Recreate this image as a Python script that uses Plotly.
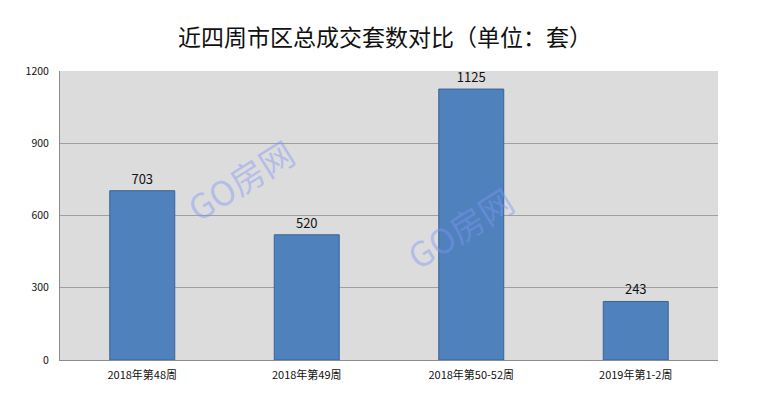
import plotly.graph_objects as go

categories = ["2018年第48周", "2018年第49周", "2018年第50-52周", "2019年第1-2周"]
values = [703, 520, 1125, 243]
y_ticks = [0, 300, 600, 900, 1200]
title_text = "近四周市区总成交套数对比（单位：套）"
watermark = "GO房网"

FONT = "Noto Sans CJK SC, Microsoft YaHei, sans-serif"

fig = go.Figure()
fig.add_trace(go.Bar(
    x=categories, y=values,
    width=0.395,
    marker=dict(color="#4F81BD", line=dict(color="#3A6497", width=1)),
    text=[str(v) for v in values],
    textposition="outside",
    textfont=dict(family=FONT, size=13, color="#111111"),
    cliponaxis=False,
))

fig.update_layout(
    width=770, height=395,
    margin=dict(l=60, r=52, t=71, b=35),
    paper_bgcolor="white",
    plot_bgcolor="#DCDCDC",
    showlegend=False,
    title=dict(text=title_text, x=0.5, xanchor="center", y=1 - 38/395, yanchor="middle",
               yref="container", font=dict(family=FONT, size=23, color="#111111")),
    xaxis=dict(
        showgrid=False, showline=True, linecolor="#8C8C8C", linewidth=1,
        tickfont=dict(family=FONT, size=11, color="#111111"),
        ticks="", ticklabelstandoff=5, mirror=False,
    ),
    yaxis=dict(
        range=[0, 1200], tickvals=y_ticks,
        showgrid=True, gridcolor="#A0A0A0", gridwidth=1,
        showline=True, linecolor="#8C8C8C", linewidth=1,
        tickfont=dict(family=FONT, size=10.5, color="#111111"),
        ticks="", ticklabelstandoff=8, zeroline=False,
    ),
)

for (x, y) in [(0.175, 0.813), (0.608, 0.457)]:
    fig.add_annotation(
        text=watermark, xref="paper", yref="paper", x=x, y=y,
        showarrow=False, textangle=-32,
        font=dict(family=FONT, size=34, color="rgba(130,150,245,0.45)"),
    )

fig.write_html("out.html")
